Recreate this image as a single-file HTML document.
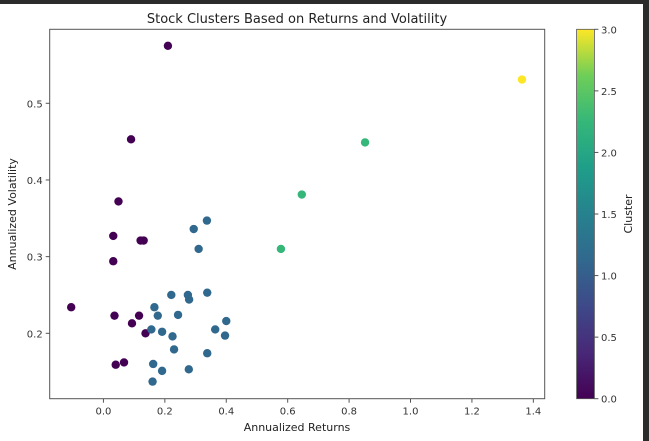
<!DOCTYPE html>
<html><head><meta charset="utf-8"><style>
body{margin:0;background:#fff;}
svg{display:block;font-family:"DejaVu Sans","Liberation Sans",sans-serif;}
</style></head><body>
<svg id="chart" width="649" height="441" viewBox="0 0 649 441">
<defs><linearGradient id="vir" x1="0" y1="1" x2="0" y2="0">
<stop offset="0" stop-color="#440154"/><stop offset="0.125" stop-color="#482878"/><stop offset="0.25" stop-color="#3e4989"/><stop offset="0.375" stop-color="#31688e"/><stop offset="0.5" stop-color="#26828e"/><stop offset="0.625" stop-color="#1f9e89"/><stop offset="0.75" stop-color="#35b779"/><stop offset="0.875" stop-color="#6ece58"/><stop offset="1" stop-color="#fde725"/>
</linearGradient></defs>
<rect x="0" y="0" width="649" height="4" fill="#2b2b2b"/>
<rect x="643" y="0" width="6" height="441" fill="#2b2b2b"/>
<text x="297" y="23" text-anchor="middle" font-size="13" fill="#222">Stock Clusters Based on Returns and Volatility</text>
<g id="ticks"></g>
<g id="pts"></g>
<rect x="49.7" y="29.3" width="495" height="369.4" fill="none" stroke="#555" stroke-width="1"/>
<text x="297" y="431" text-anchor="middle" font-size="11" fill="#222">Annualized Returns</text>
<text transform="translate(16,214) rotate(-90)" text-anchor="middle" font-size="11" fill="#222">Annualized Volatility</text>
<rect x="576.6" y="29.3" width="17.8" height="369.4" fill="url(#vir)" stroke="#555" stroke-width="0.8"/>
<text transform="translate(632,214) rotate(-90)" text-anchor="middle" font-size="11" fill="#222">Cluster</text>
</svg>
<script>
const xTicks=[0.0,0.2,0.4,0.6,0.8,1.0,1.2,1.4];
const yTicks=[0.2,0.3,0.4,0.5];
const cTicks=[0.0,0.5,1.0,1.5,2.0,2.5,3.0];
const returns=[0.210,0.090,0.049,0.032,0.121,0.131,0.032,-0.105,0.036,0.116,0.093,0.137,0.040,0.067,
0.337,0.294,0.310,0.221,0.275,0.279,0.338,0.166,0.177,0.243,0.400,0.156,0.191,0.364,0.225,0.396,0.230,0.338,0.162,0.191,0.278,0.160,
0.852,0.646,0.578,1.363];
const vols=[0.575,0.453,0.372,0.327,0.321,0.321,0.294,0.234,0.223,0.223,0.213,0.200,0.159,0.162,
0.347,0.336,0.310,0.250,0.250,0.244,0.253,0.234,0.223,0.224,0.216,0.205,0.202,0.205,0.196,0.197,0.179,0.174,0.160,0.151,0.153,0.137,
0.449,0.381,0.310,0.531];
const clusters=[0,0,0,0,0,0,0,0,0,0,0,0,0,0,
1,1,1,1,1,1,1,1,1,1,1,1,1,1,1,1,1,1,1,1,1,1,
2,2,2,3];
const NS="http://www.w3.org/2000/svg";
const X0=-0.175,X1=1.437,Y0=0.1147,Y1=0.5965,L=49.7,R=544.7,T=29.3,B=398.7;
function sx(v){return L+(v-X0)/(X1-X0)*(R-L);}
function sy(v){return B-(v-Y0)/(Y1-Y0)*(B-T);}
function sc(v){return B-v/3*(B-T);}
const colors=["#440154","#31688e","#35b779","#fde725"];
const tg=document.getElementById('ticks');
function mk(tag,attrs,parent){const e=document.createElementNS(NS,tag);for(const k in attrs)e.setAttribute(k,attrs[k]);parent.appendChild(e);return e;}
xTicks.forEach(v=>{
  const l=mk('line',{x1:sx(v),x2:sx(v),y1:B,y2:B+4,stroke:'#555'},tg);
  
  
  const t=mk('text',{x:sx(v),y:B+16,'text-anchor':'middle','font-size':'10',fill:'#333'},tg);
  t.textContent=v.toFixed(1);
  
  
});
yTicks.forEach(v=>{
  const l=mk('line',{x1:L-4,x2:L,y1:sy(v),y2:sy(v),stroke:'#555'},tg);
  
  
  const t=mk('text',{x:L-7,y:sy(v)+4,'text-anchor':'end','font-size':'10',fill:'#333'},tg);
  t.textContent=v.toFixed(1);
  
  
});
cTicks.forEach(v=>{
  const l=mk('line',{x1:594.4,x2:598.4,y1:sc(v),y2:sc(v),stroke:'#555'},tg);
  
  
  const t=mk('text',{x:601,y:sc(v)+4,'font-size':'10',fill:'#333'},tg);
  t.textContent=v.toFixed(1);
  
  
});
const pg=document.getElementById('pts');
returns.forEach((r,i)=>{
  const c=mk('circle',{cx:sx(r),cy:sy(vols[i]),r:4.2,fill:colors[clusters[i]]},pg);
  
  
});
</script>
</body></html>
